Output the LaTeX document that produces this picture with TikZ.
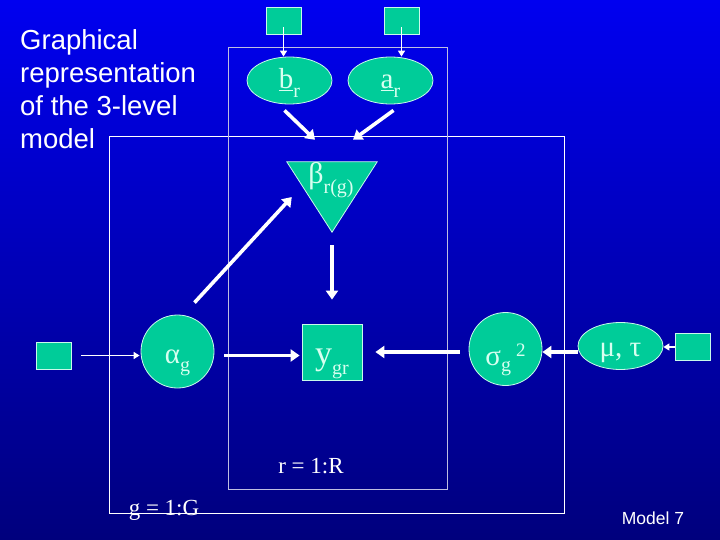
\documentclass[tikz,border=0pt]{standalone}
\usepackage{fontspec}
\setmainfont{Liberation Serif}
\newfontfamily\arialfont{Liberation Sans}
\usetikzlibrary{arrows.meta,shapes.geometric}
\definecolor{nodeteal}{RGB}{0,204,153}
\definecolor{minttext}{RGB}{215,255,240}
\definecolor{mintline}{RGB}{200,250,235}
\definecolor{bgtop}{RGB}{0,0,240}
\definecolor{bgbottom}{RGB}{0,0,125}
\definecolor{platelight}{RGB}{190,190,225}
\newcommand{\bigsym}{\fontsize{29}{32}\selectfont}
\newcommand{\lowsub}[2][8pt]{\raisebox{-#1}{\fontsize{20}{22}\selectfont #2}}
\newcommand{\highsup}[2][8pt]{\raisebox{#1}{\fontsize{19}{20}\selectfont #2}}
\newcommand{\lowered}[2]{\raisebox{-#1}[0pt][0pt]{#2}}

\begin{document}
\begin{tikzpicture}[
  x=1pt, y=-1pt,
  square/.style={draw=mintline, fill=nodeteal, line width=0.8pt, minimum width=35pt, minimum height=27pt, inner sep=0pt},
  oval/.style={ellipse, draw=mintline, fill=nodeteal, line width=0.8pt, minimum width=85pt, minimum height=47pt, inner sep=0pt, text=minttext, font=\bigsym},
  disc/.style={circle, draw=mintline, fill=nodeteal, line width=0.8pt, minimum size=73pt, inner sep=0pt, text=minttext, font=\bigsym},
  plate/.style={line width=0.9pt},
  thinarr/.style={white, line width=1.8pt, -{Triangle[width=7pt,length=6pt]}},
  thickarr/.style={white, line width=3.6pt, -{Triangle[width=12pt,length=9pt]}},
  lbl/.style={text=white, inner sep=0pt, font=\fontsize{23}{26}\selectfont}
]
\shade[top color=bgtop, bottom color=bgbottom] (0,0) rectangle (720,540);
\useasboundingbox (0,0) rectangle (720,540);

% plates
\draw[plate, white] (109,136) rectangle (564,513);
\draw[plate, platelight] (228,47) rectangle (447,489);

\node[anchor=north west, align=left, inner sep=0pt, text=white, font=\arialfont\fontsize{27.5}{33}\selectfont] (title) at (20,29) {Graphical\\representation\\of the 3-level\\model};

% nodes
\node[square] (hypb) at (283.5,20.5) {};
\node[square] (hypa) at (401.5,20.5) {};
\node[oval] (br) at (289.5,80.5) {\lowered{8.5pt}{\underline{b}\lowsub[9pt]{r}}};
\node[oval] (ar) at (390.5,80.5) {\lowered{8.5pt}{\underline{a}\lowsub[9pt]{r}}};
\node[minimum width=90pt, minimum height=70pt, inner sep=0pt] (beta) at (332,197) {};
\draw[draw=mintline, fill=nodeteal, line width=0.8pt] (beta.north west) -- (beta.north east) -- (beta.south) -- cycle;
\node[text=minttext, font=\fontsize{30}{32}\selectfont, inner sep=0pt, anchor=base] (betatxt) at (331,184) {β\lowsub[10pt]{r(g)}};
\node[square] (hypalpha) at (53.5,355.5) {};
\node[disc] (alpha) at (177.5,351.5) {\lowered{12pt}{α\lowsub[8pt]{g}}};
\node[square, minimum width=60pt, minimum height=56pt, text=minttext, font=\fontsize{34}{36}\selectfont] (ygr) at (332,352) {\lowered{12pt}{y\lowsub[10pt]{gr}}};
\node[disc] (sigma) at (505.5,349) {\lowered{16pt}{σ\lowsub[6pt]{g}\hspace{5pt}\highsup[9pt]{2}}};
\node[oval] (mutau) at (620.5,346) {\lowered{10pt}{μ, τ}};
\node[square] (hypmu) at (692.5,347) {};

% arrows
\draw[thinarr, shorten <=7pt] (hypb.center) -- (hypb.center |- br.north);
\draw[thinarr, shorten <=7pt] (hypa.center) -- (hypa.center |- ar.north);
\draw[thickarr] ([xshift=-5pt,yshift=-6pt]br.south) -- ([xshift=-17pt,yshift=22pt]beta.north);
\draw[thickarr] ([xshift=3pt,yshift=-6pt]ar.south) -- ([xshift=21pt,yshift=22pt]beta.north);
\draw[thickarr] ([xshift=17pt,yshift=12pt]alpha.north) -- ([xshift=5pt]beta.west);
\draw[thickarr] ([yshift=-13pt]beta.south) -- ([yshift=24pt]ygr.north);
\draw[thinarr, shorten <=10pt, shorten >=1pt] (hypalpha.east) -- (hypalpha.east -| alpha.west);
\draw[thickarr, shorten <=10pt, shorten >=2pt] ([yshift=-4pt]alpha.east) -- ([yshift=-4pt]alpha.east -| ygr.west);
\draw[thickarr, shorten <=9pt, shorten >=13pt] ([yshift=-3pt]sigma.west) -- ([yshift=-3pt]sigma.west -| ygr.east);
\draw[thickarr] ([yshift=-6pt]mutau.west) -- ([yshift=-6pt]mutau.west -| sigma.east);
\draw[thinarr] (hypmu.west) -- (hypmu.west -| mutau.east);

% labels
\node[lbl] (rplate) at (311,466) {r = 1:R};
\node[lbl, anchor=base] (gplate) at (164,515) {g = 1:G};
\node[text=white, font=\arialfont\fontsize{17.5}{20}\selectfont] (modelno) at (653,518) {Model 7};
\end{tikzpicture}
\end{document}
